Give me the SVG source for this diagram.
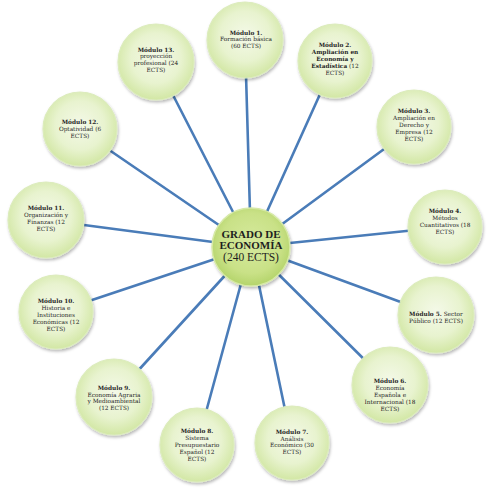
<svg xmlns="http://www.w3.org/2000/svg" width="495" height="488" viewBox="0 0 495 488">
<defs>
<radialGradient id="gOuter" cx="50%" cy="45%" r="55%">
<stop offset="0" stop-color="#f4f9e8"/>
<stop offset="0.6" stop-color="#e8f3cf"/>
<stop offset="1" stop-color="#d2e7a4"/>
</radialGradient>
<radialGradient id="gCenter" cx="50%" cy="45%" r="55%">
<stop offset="0" stop-color="#d6ea9e"/>
<stop offset="0.7" stop-color="#c9e187"/>
<stop offset="1" stop-color="#b4d46a"/>
</radialGradient>
<filter id="sh" x="-20%" y="-20%" width="150%" height="150%">
<feDropShadow dx="1" dy="2" stdDeviation="1.5" flood-color="#000" flood-opacity="0.28"/>
</filter>
</defs>
<style>
.lk{stroke:#4a7cb8;stroke-width:2.6;fill:none;stroke-linecap:round}
.o{fill:url(#gOuter);stroke:#dcecbd;stroke-width:1.2;filter:url(#sh)}
.c{fill:url(#gCenter);stroke:#d6e9a6;stroke-width:1.5;filter:url(#sh)}
text{font-family:"DejaVu Serif","Liberation Serif",serif;fill:#262626;text-anchor:middle;font-size:5.8px}
.b{font-weight:bold}
.ct{font-family:"Liberation Serif","DejaVu Serif",serif;font-size:11px;fill:#1e1e1e}
</style>
<g id="connectors">
<line class="lk" x1="251" y1="247" x2="245" y2="40"/>
<line class="lk" x1="251" y1="247" x2="335" y2="61"/>
<line class="lk" x1="251" y1="247" x2="414" y2="127"/>
<line class="lk" x1="251" y1="247" x2="445" y2="227"/>
<line class="lk" x1="251" y1="247" x2="436" y2="315"/>
<line class="lk" x1="251" y1="247" x2="390" y2="385"/>
<line class="lk" x1="251" y1="247" x2="292" y2="443"/>
<line class="lk" x1="251" y1="247" x2="197" y2="445"/>
<line class="lk" x1="251" y1="247" x2="114" y2="397"/>
<line class="lk" x1="251" y1="247" x2="56" y2="312"/>
<line class="lk" x1="251" y1="247" x2="46" y2="220"/>
<line class="lk" x1="251" y1="247" x2="80" y2="130"/>
<line class="lk" x1="251" y1="247" x2="156" y2="62"/>
</g>
<g id="center">
<circle class="c" cx="251" cy="247" r="39"/>
<text class="ct b" x="251" y="238">GRADO DE</text>
<text class="ct b" x="251" y="249">ECONOMÍA</text>
<text class="ct" x="251" y="261" style="font-size:11.5px">(240 ECTS)</text>
</g>
<g id="m1">
<circle class="o" cx="245" cy="40" r="38"/>
<text x="246" y="34.5" class="b">Módulo 1.</text>
<text x="246" y="41.3">Formación básica</text>
<text x="246" y="48.1">(60 ECTS)</text>
</g>
<g id="m2">
<circle class="o" cx="335" cy="61" r="37"/>
<text x="335" y="47.4" class="b">Módulo 2.</text>
<text x="335" y="54.2" class="b">Ampliación en</text>
<text x="335" y="61" class="b">Economía y</text>
<text x="335" y="67.8"><tspan class="b">Estadística</tspan> (12</text>
<text x="335" y="74.6">ECTS)</text>
</g>
<g id="m3">
<circle class="o" cx="414" cy="127" r="37"/>
<text x="414" y="113.4" class="b">Módulo 3.</text>
<text x="414" y="120.2">Ampliación en</text>
<text x="414" y="127">Derecho y</text>
<text x="414" y="133.8">Empresa (12</text>
<text x="414" y="140.6">ECTS)</text>
</g>
<g id="m4">
<circle class="o" cx="445" cy="227" r="37"/>
<text x="445" y="213.3" class="b">Módulo 4.</text>
<text x="445" y="220.1">Métodos</text>
<text x="445" y="226.9">Cuantitativos (18</text>
<text x="445" y="233.7">ECTS)</text>
</g>
<g id="m5">
<circle class="o" cx="436" cy="315" r="38"/>
<text x="436" y="315.8"><tspan class="b">Módulo 5.</tspan> Sector</text>
<text x="436" y="322.6">Público (12 ECTS)</text>
</g>
<g id="m6">
<circle class="o" cx="390" cy="385" r="38"/>
<text x="390" y="383.4" class="b">Módulo 6.</text>
<text x="390" y="390.2">Economía</text>
<text x="390" y="397">Española e</text>
<text x="390" y="403.8">Internacional (18</text>
<text x="390" y="410.6">ECTS)</text>
</g>
<g id="m7">
<circle class="o" cx="292" cy="443" r="37"/>
<text x="292" y="433.8" class="b">Módulo 7.</text>
<text x="292" y="440.6">Análisis</text>
<text x="292" y="447.4">Económico (30</text>
<text x="292" y="454.2">ECTS)</text>
</g>
<g id="m8">
<circle class="o" cx="197" cy="445" r="37"/>
<text x="197" y="433.4" class="b">Módulo 8.</text>
<text x="197" y="440.2">Sistema</text>
<text x="197" y="447">Presupuestario</text>
<text x="197" y="453.8">Español (12</text>
<text x="197" y="460.6">ECTS)</text>
</g>
<g id="m9">
<circle class="o" cx="114" cy="397" r="38"/>
<text x="114" y="389.8" class="b">Módulo 9.</text>
<text x="114" y="396.6">Economía Agraria</text>
<text x="114" y="403.4">y Medioambiental</text>
<text x="114" y="410.2">(12 ECTS)</text>
</g>
<g id="m10">
<circle class="o" cx="56" cy="312" r="37"/>
<text x="56" y="303.4" class="b">Módulo 10.</text>
<text x="56" y="310.2">Historia e</text>
<text x="56" y="317">Instituciones</text>
<text x="56" y="323.8">Económicas (12</text>
<text x="56" y="330.6">ECTS)</text>
</g>
<g id="m11">
<circle class="o" cx="46" cy="220" r="38"/>
<text x="46" y="210.3" class="b">Módulo 11.</text>
<text x="46" y="217.1">Organización y</text>
<text x="46" y="223.9">Finanzas (12</text>
<text x="46" y="230.7">ECTS)</text>
</g>
<g id="m12">
<circle class="o" cx="80" cy="129" r="37"/>
<text x="80" y="123.9" class="b">Módulo 12.</text>
<text x="80" y="130.7">Optatividad (6</text>
<text x="80" y="137.5">ECTS)</text>
</g>
<g id="m13">
<circle class="o" cx="156" cy="62" r="38"/>
<text x="156" y="51.6" class="b">Módulo 13.</text>
<text x="156" y="58.4">proyección</text>
<text x="156" y="65.2">profesional (24</text>
<text x="156" y="72">ECTS)</text>
</g>
</svg>
